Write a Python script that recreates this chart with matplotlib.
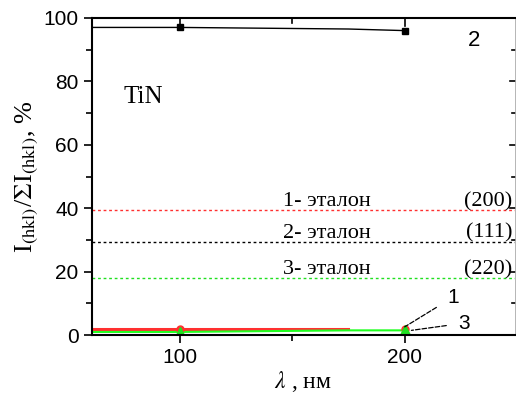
import matplotlib.pyplot as plt
import numpy as np

plt.rcParams['mathtext.fontset'] = 'stix'

# data
x2 = [60, 100, 175, 200]
y2 = [97, 97, 96.5, 96]       # curve 2, black squares
x1 = [60, 100, 175, 200]
y1 = [1.9, 1.9, 1.9, 1.9]     # curve 1, red circles
x3 = [60, 100, 175, 200]
y3 = [1.0, 1.0, 1.5, 1.5]     # curve 3, green triangles
ref_levels = [39.5, 29.5, 18.0]   # standards (200), (111), (220)
ref_colors = ['#ff3030', 'black', '#20e020']
ref_names = ['1- эталон', '2- эталон', '3- эталон']
ref_hkl = ['(200)', '(111)', '(220)']

fig = plt.figure(figsize=(5.16, 3.98), dpi=100)
ax = fig.add_axes([0.178, 0.158, 0.82, 0.797])

for lev, c in zip(ref_levels, ref_colors):
    ax.axhline(lev, color=c, lw=1.0, ls=(0, (2, 2)))

ax.plot(x1[:3], y1[:3], color='#ff3030', lw=2.2)
ax.plot(x3, y3, color='#20ff20', lw=1.5)
ax.plot(x2, y2, color='black', lw=1.0, marker='s', ms=4, markevery=[1, 3])
ax.plot([x1[1], x1[3]], [y1[1], y1[3]], ls='none', color='#ff3030',
        marker='o', ms=5)
ax.plot([x3[1], x3[3]], [y3[1], y3[3]], ls='none', color='#20e020',
        marker='^', ms=7)

xlim = (61, 249)
ylim = (0, 100)
xmaj, xmin = [100, 200], [150]
ymaj, ymin = np.arange(0, 101, 20), np.arange(10, 100, 20)

ax.set_xlim(xlim)
ax.set_ylim(ylim)
ax.set_xticks(xmaj)
ax.set_xticks(xmin, minor=True)
ax.set_yticks(ymaj)
ax.set_yticks(ymin, minor=True)
ax.tick_params(which='both', direction='out', top=False, right=False,
               labelsize=15, width=1.2)
ax.tick_params(which='major', length=6)
ax.tick_params(which='minor', length=4)
for lab in ax.get_xticklabels() + ax.get_yticklabels():
    lab.set_family('Liberation Sans')

# inward ticks on top and right, drawn as short segments in axes coords
tr_x = ax.get_xaxis_transform()
tr_y = ax.get_yaxis_transform()
for v in xmaj:
    ax.plot([v, v], [1, 0.975], color='black', lw=1.2, transform=tr_x,
            clip_on=False)
for v in xmin:
    ax.plot([v, v], [1, 0.985], color='black', lw=1.2, transform=tr_x,
            clip_on=False)
for v in ymaj:
    ax.plot([1, 0.988], [v, v], color='black', lw=1.2, transform=tr_y,
            clip_on=False)
for v in ymin:
    ax.plot([1, 0.992], [v, v], color='black', lw=1.2, transform=tr_y,
            clip_on=False)

for s in ['left', 'bottom', 'top']:
    ax.spines[s].set_linewidth(1.5)
ax.spines['right'].set_linewidth(0.6)
ax.spines['right'].set_color('#aaaaaa')

serif = 'Liberation Serif'
ax.text(75, 75, 'TiN', family=serif, fontsize=18, va='center')
ax.text(231, 93, '2', family='Liberation Sans', fontsize=16, ha='center',
        va='center')
for lev, name, hkl in zip(ref_levels, ref_names, ref_hkl):
    ax.text(146, lev + 1.2, name, family=serif, fontsize=16)
    ax.text(248, lev + 1.2, hkl, family=serif, fontsize=16, ha='right')

ax.annotate('1', xy=(200, 2.6), xytext=(219, 12), family='Liberation Sans',
            fontsize=15, ha='left', va='center',
            arrowprops=dict(arrowstyle='-', ls='--', lw=0.9, color='black',
                            shrinkA=7, shrinkB=0))
ax.annotate('3', xy=(203, 1.5), xytext=(224, 3.8), family='Liberation Sans',
            fontsize=15, ha='left', va='center',
            arrowprops=dict(arrowstyle='-', ls='--', lw=0.9, color='black',
                            shrinkA=7, shrinkB=0))

ax.set_ylabel(r'I$_{\rm (hkl)}$/$\Sigma$I$_{\rm (hkl)}$, %', family=serif,
              fontsize=19, labelpad=2)
ax.set_xlabel(r'$\lambda$ , нм', family=serif, fontsize=17, labelpad=1)

fig.savefig('out.png', dpi=100)
